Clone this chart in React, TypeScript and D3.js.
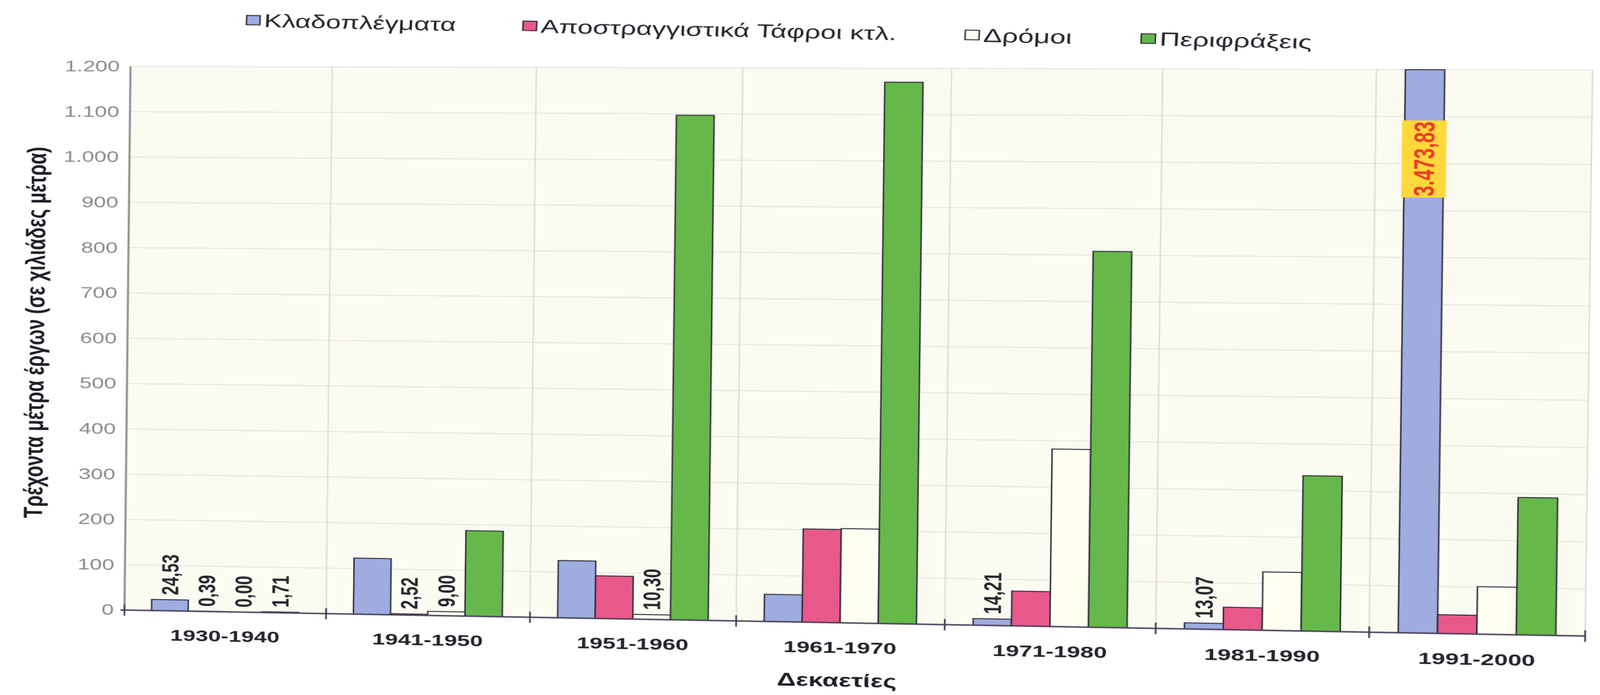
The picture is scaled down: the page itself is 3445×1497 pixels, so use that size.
import { useEffect, useRef } from "react"
import * as d3 from "d3"

const decades = ["1930-1940", "1941-1950", "1951-1960", "1961-1970", "1971-1980", "1981-1990", "1991-2000"]
const seriesNames = ["Κλαδοπλέγματα", "Αποστραγγιστικά Τάφροι κτλ.", "Δρόμοι", "Περιφράξεις"]
const seriesColors = ["#9eacdf", "#e9588a", "#fffff2", "#67b84b"]

// thousands of running metres per decade
const kladoplegmata = [24.53, 123, 125, 59, 14.21, 13.07, 3473.83]
const apostraggistika = [0.39, 2.52, 93, 202, 75, 48, 40]
const dromoi = [0.0, 9.0, 10.3, 204, 382, 125, 101]
const perifraxeis = [1.71, 187, 1097, 1170, 808, 332, 292]

// which bars carry a printed value
const labelledKlado = [true, false, false, false, true, true, true]
const labelledApostr = [true, true, false, false, false, false, false]
const labelledDromoi = [true, true, true, false, false, false, false]
const labelledPerif = [true, false, false, false, false, false, false]

const yTicks = [0, 100, 200, 300, 400, 500, 600, 700, 800, 900, 1000, 1100, 1200]

const series = [kladoplegmata, apostraggistika, dromoi, perifraxeis]
const labelled = [labelledKlado, labelledApostr, labelledDromoi, labelledPerif]

const greek = d3.formatLocale({ decimal: ",", thousands: ".", grouping: [3], currency: ["", " €"] })
const fmtTick = greek.format(",.0f")
const fmtValue = greek.format(",.2f")

// flat chart frame (before the scan's warp)
const L = 200
const W = 2097
const T = 143
const B = 1314

// where the corners of the plot ended up on the scanned page: TL, TR, BR, BL
const pageQuad: [number, number][] = [
  [281, 143],
  [3429, 151],
  [3413, 1370],
  [268, 1314],
]

function warp(q: [number, number][]) {
  const [[x0, y0], [x1, y1], [x2, y2], [x3, y3]] = q
  const dx1 = x1 - x2, dx2 = x3 - x2, dx3 = x0 - x1 + x2 - x3
  const dy1 = y1 - y2, dy2 = y3 - y2, dy3 = y0 - y1 + y2 - y3
  const den = dx1 * dy2 - dx2 * dy1
  const g = (dx3 * dy2 - dx2 * dy3) / den
  const h = (dx1 * dy3 - dx3 * dy1) / den
  const a = x1 - x0 + g * x1, b = x3 - x0 + h * x3, c = x0
  const d = y1 - y0 + g * y1, e = y3 - y0 + h * y3, f = y0
  const H = B - T
  const m00 = a / W, m01 = b / H, m02 = c - (a * L) / W - (b * T) / H
  const m10 = d / W, m11 = e / H, m12 = f - (d * L) / W - (e * T) / H
  const m20 = g / W, m21 = h / H, m22 = 1 - (g * L) / W - (h * T) / H
  return `matrix3d(${m00},${m10},0,${m20},${m01},${m11},0,${m21},0,0,1,0,${m02},${m12},0,${m22})`
}

export default function App() {
  const svgRef = useRef<SVGSVGElement>(null)

  useEffect(() => {
    if (!svgRef.current) return
    const svg = d3.select(svgRef.current)
    svg.selectAll("*").remove()

    const sans = "'Liberation Sans', Arial, sans-serif"
    const narrow = "'Liberation Sans Narrow', 'Arial Narrow', 'Liberation Sans', sans-serif"

    svg.append("rect").attr("x", -200).attr("y", -200).attr("width", 2800).attr("height", 1900).attr("fill", "#ffffff")

    const x0 = d3.scaleBand<string>().domain(decades).range([L, L + W]).paddingInner(0.27).paddingOuter(0.135)
    const x1 = d3.scaleBand<number>().domain(d3.range(series.length)).range([0, x0.bandwidth()])
    const y = d3.scaleLinear().domain([0, 1200]).range([B, T]).clamp(true)
    const step = W / decades.length

    // plot area
    svg.append("rect").attr("x", L).attr("y", T).attr("width", W).attr("height", B - T).attr("fill", "#fcfbf2")

    svg.append("g")
      .selectAll("line")
      .data(yTicks.slice(1))
      .join("line")
      .attr("x1", L)
      .attr("x2", L + W)
      .attr("y1", (d) => y(d))
      .attr("y2", (d) => y(d))
      .attr("stroke", "#e7e5dc")
      .attr("stroke-width", 2)

    svg.append("g")
      .selectAll("line")
      .data(d3.range(1, decades.length + 1))
      .join("line")
      .attr("x1", (i) => L + i * step)
      .attr("x2", (i) => L + i * step)
      .attr("y1", T)
      .attr("y2", B)
      .attr("stroke", "#dedcd4")
      .attr("stroke-width", 2)

    // bars
    const groups = svg.append("g")
      .selectAll("g")
      .data(decades)
      .join("g")
      .attr("transform", (d) => `translate(${x0(d)},0)`)

    groups.selectAll("rect")
      .data((_, i) => series.map((s, k) => ({ k, v: s[i] })))
      .join("rect")
      .attr("x", (d) => x1(d.k)!)
      .attr("width", x1.bandwidth())
      .attr("y", (d) => y(d.v))
      .attr("height", (d) => B - y(d.v))
      .attr("fill", (d) => seriesColors[d.k])
      .attr("stroke", "#2c2a38")
      .attr("stroke-width", 2)

    // value labels
    const labels: { i: number; k: number; v: number }[] = []
    series.forEach((s, k) => s.forEach((v, i) => { if (labelled[k][i]) labels.push({ i, k, v }) }))

    labels.forEach((d) => {
      const cx = x0(decades[d.i])! + x1(d.k)! + x1.bandwidth() / 2
      if (d.v > 1200) {
        const cy = y(1010)
        const g = svg.append("g").attr("transform", `translate(${cx},${cy}) rotate(-90)`)
        g.append("rect").attr("x", -80).attr("y", -31).attr("width", 160).attr("height", 62).attr("fill", "#ffd83c")
        g.append("text")
          .attr("text-anchor", "middle")
          .attr("dominant-baseline", "central")
          .attr("font-family", narrow)
          .attr("font-weight", "bold")
          .attr("font-size", 40)
          .attr("fill", "#ec3a24")
          .text(fmtValue(d.v))
      } else {
        svg.append("text")
          .attr("transform", `translate(${cx},${y(d.v) - 10}) rotate(-90)`)
          .attr("text-anchor", "start")
          .attr("dominant-baseline", "central")
          .attr("font-family", sans)
          .attr("font-weight", "bold")
          .attr("font-size", 35)
          .attr("fill", "#26242c")
          .text(fmtValue(d.v))
      }
    })

    // axes
    svg.append("line").attr("x1", L).attr("x2", L).attr("y1", T).attr("y2", B + 4).attr("stroke", "#8e8e8e").attr("stroke-width", 3)
    svg.append("line").attr("x1", L - 6).attr("x2", L + W).attr("y1", B).attr("y2", B).attr("stroke", "#463e58").attr("stroke-width", 3)

    svg.append("g")
      .selectAll("line")
      .data(d3.range(0, decades.length + 1))
      .join("line")
      .attr("x1", (i) => L + i * step)
      .attr("x2", (i) => L + i * step)
      .attr("y1", B - 12)
      .attr("y2", B + 12)
      .attr("stroke", "#463e58")
      .attr("stroke-width", 2.5)

    svg.append("g")
      .selectAll("text")
      .data(yTicks)
      .join("text")
      .attr("x", L - 16)
      .attr("y", (d) => y(d))
      .attr("text-anchor", "end")
      .attr("dominant-baseline", "central")
      .attr("font-family", sans)
      .attr("font-size", 33)
      .attr("fill", "#8a8a8a")
      .text((d) => fmtTick(d))

    svg.append("g")
      .selectAll("text")
      .data(decades)
      .join("text")
      .attr("x", (d) => x0(d)! + x0.bandwidth() / 2)
      .attr("y", B + 52)
      .attr("text-anchor", "middle")
      .attr("dominant-baseline", "central")
      .attr("font-family", sans)
      .attr("font-weight", "bold")
      .attr("font-size", 34)
      .attr("fill", "#24222a")
      .text((d) => d)

    svg.append("text")
      .attr("x", L + W / 2 - 4)
      .attr("y", B + 122)
      .attr("text-anchor", "middle")
      .attr("dominant-baseline", "central")
      .attr("font-family", narrow)
      .attr("font-weight", "bold")
      .attr("font-size", 38)
      .attr("fill", "#1e1c24")
      .text("Δεκαετίες")

    svg.append("text")
      .attr("transform", `translate(61,718) rotate(-90)`)
      .attr("text-anchor", "middle")
      .attr("dominant-baseline", "central")
      .attr("font-family", narrow)
      .attr("font-weight", "bold")
      .attr("font-size", 40)
      .attr("fill", "#1e1c24")
      .text("Τρέχοντα μέτρα έργων (σε χιλιάδες μέτρα)")

    // legend
    const legend = svg.append("g").attr("transform", "translate(372,43) rotate(1.6)")
    let lx = 0
    seriesNames.forEach((name, k) => {
      legend.append("rect")
        .attr("x", lx)
        .attr("y", -10)
        .attr("width", 20)
        .attr("height", 20)
        .attr("fill", seriesColors[k])
        .attr("stroke", "#2c2a38")
        .attr("stroke-width", 2)
      const t = legend.append("text")
        .attr("x", lx + 26)
        .attr("y", 0)
        .attr("dominant-baseline", "central")
        .attr("font-family", sans)
        .attr("font-size", 40)
        .attr("fill", "#24222a")
        .text(name)
      const len = (t.node() as SVGTextElement).getComputedTextLength()
      lx += 26 + len + 98
    })
  }, [])

  return (
    <svg
      ref={svgRef}
      width={2400}
      height={1497}
      style={{ position: "absolute", left: 0, top: 0, transformOrigin: "0 0", transform: warp(pageQuad) }}
    />
  )
}
